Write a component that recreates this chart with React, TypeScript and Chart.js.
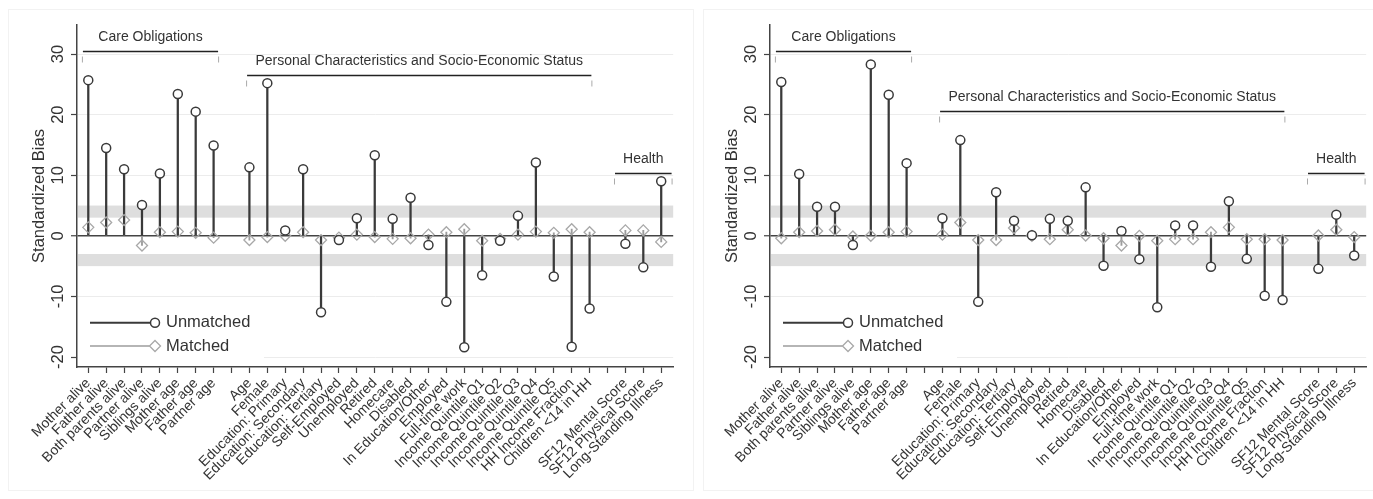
import React, { useEffect, useRef } from 'react';
import { Chart, registerables } from 'chart.js';

Chart.register(...registerables);

const FONT = "'Liberation Sans', Arial, Helvetica, sans-serif";

const categories = [
  'Mother alive', 'Father alive', 'Both parents alive', 'Partner alive', 'Siblings alive',
  'Mother age', 'Father age', 'Partner age', '',
  'Age', 'Female', 'Education: Primary', 'Education: Secondary', 'Education: Tertiary',
  'Self-Employed', 'Unemployed', 'Retired', 'Homecare', 'Disabled', 'In Education/Other',
  'Employed', 'Full-time work', 'Income Quintile Q1', 'Income Quintile Q2', 'Income Quintile Q3',
  'Income Quintile Q4', 'Income Quintile Q5', 'HH Income Fraction', 'Children <14 in HH', '',
  'SF12 Mental Score', 'SF12 Physical Score', 'Long-Standing Illness',
];

const unmatchedLeft: (number | null)[] = [
  25.7, 14.5, 11.0, 5.1, 10.3, 23.4, 20.5, 14.9, null,
  11.3, 25.2, 0.9, 11.0, -12.6, -0.7, 2.9, 13.3, 2.8, 6.3, -1.5,
  -10.9, -18.4, -6.5, -0.8, 3.3, 12.1, -6.7, -18.3, -12.0, null,
  -1.3, -5.2, 9.0,
];
const matchedLeft: (number | null)[] = [
  1.4, 2.2, 2.6, -1.6, 0.6, 0.7, 0.5, -0.3, null,
  -0.7, -0.2, 0.0, 0.6, -0.7, -0.3, 0.2, -0.2, -0.5, -0.4, 0.2,
  0.6, 1.1, -0.8, -0.5, 0.2, 0.7, 0.5, 1.1, 0.6, null,
  0.9, 0.9, -1.0,
];
const unmatchedRight: (number | null)[] = [
  25.4, 10.2, 4.8, 4.8, -1.5, 28.3, 23.3, 12.0, null,
  2.9, 15.8, -10.9, 7.2, 2.5, 0.1, 2.8, 2.5, 8.0, -4.95, 0.8,
  -3.85, -11.8, 1.7, 1.7, -5.1, 5.7, -3.8, -9.9, -10.6, null,
  -5.45, 3.5, -3.25,
];
const matchedRight: (number | null)[] = [
  -0.4, 0.6, 0.8, 1.0, -0.1, 0.0, 0.6, 0.7, null,
  0.2, 2.2, -0.7, -0.7, 1.3, 0.0, -0.55, 1.0, 0.05, -0.4, -1.6,
  0.0, -0.8, -0.55, -0.55, 0.6, 1.4, -0.55, -0.55, -0.7, null,
  0.05, 1.0, -0.2,
];

const yTicks = [-20, -10, 0, 10, 20, 30];
const bandRanges = [[3, 5], [-5, -3]];
const groupNames = ['Care Obligations', 'Personal Characteristics and Socio-Economic Status', 'Health'];
const groupFrom = [-0.3, 8.87, 29.42];
const groupTo = [7.25, 28.1, 32.58];
const groupLevelLeft = [30.5, 26.6, 10.4];
const groupLevelRight = [30.5, 20.6, 10.4];
const seriesNames = ['Unmatched', 'Matched'];
const yTitle = 'Standardized Bias';

const DARK = '#3a3a3a';
const GREY = '#9c9c9c';
const DIAMOND = '#a8a8a8';

function points(vals: (number | null)[]) {
  const out: { x: number; y: number }[] = [];
  vals.forEach((v, i) => {
    if (v !== null) out.push({ x: i, y: v });
  });
  return out;
}

function makePlugin(levels: number[]) {
  return {
    id: 'stataDecor',
    beforeDatasetsDraw(chart: any) {
      const { ctx, chartArea: a, scales } = chart;
      const y = scales.y;
      ctx.save();
      ctx.fillStyle = '#dedede';
      bandRanges.forEach(([lo, hi]) => {
        const top = y.getPixelForValue(hi);
        const bot = y.getPixelForValue(lo);
        ctx.fillRect(a.left + 1, top, a.right - a.left - 1, bot - top);
      });
      ctx.restore();
    },
    afterDraw(chart: any) {
      const { ctx, chartArea: a, scales } = chart;
      const x = scales.x;
      const y = scales.y;
      ctx.save();
      ctx.fillStyle = '#333';
      ctx.textAlign = 'center';
      ctx.textBaseline = 'middle';
      ctx.font = `16.5px ${FONT}`;
      yTicks.forEach((v) => {
        ctx.save();
        ctx.translate(a.left - 19, y.getPixelForValue(v));
        ctx.rotate(-Math.PI / 2);
        ctx.fillText(String(v), 0, 0);
        ctx.restore();
      });
      ctx.save();
      ctx.translate(a.left - 38, (a.top + a.bottom) / 2);
      ctx.rotate(-Math.PI / 2);
      ctx.fillText(yTitle, 0, 0);
      ctx.restore();

      // group brackets
      ctx.font = `14px ${FONT}`;
      groupNames.forEach((name, g) => {
        const x1 = x.getPixelForValue(groupFrom[g]);
        const x2 = x.getPixelForValue(groupTo[g]);
        const yy = Math.round(y.getPixelForValue(levels[g])) + 0.5;
        ctx.strokeStyle = '#222';
        ctx.lineWidth = 1.3;
        ctx.beginPath();
        ctx.moveTo(x1, yy);
        ctx.lineTo(x2, yy);
        ctx.stroke();
        ctx.strokeStyle = '#aaa';
        ctx.lineWidth = 1;
        ctx.beginPath();
        ctx.moveTo(x1 - 0.5, yy + 5);
        ctx.lineTo(x1 - 0.5, yy + 11);
        ctx.moveTo(x2 + 0.5, yy + 5);
        ctx.lineTo(x2 + 0.5, yy + 11);
        ctx.stroke();
        ctx.fillStyle = '#333';
        ctx.fillText(name, (x1 + x2) / 2, yy - 14);
      });

      // legend
      ctx.fillStyle = '#fff';
      ctx.fillRect(a.left + 1, a.bottom - 62, 186, 61);
      const ly = [a.bottom - 44.3, a.bottom - 21];
      const lx1 = a.left + 13;
      const lx2 = a.left + 78;
      // unmatched
      ctx.strokeStyle = DARK;
      ctx.lineWidth = 2;
      ctx.beginPath();
      ctx.moveTo(lx1, ly[0]);
      ctx.lineTo(lx2, ly[0]);
      ctx.stroke();
      ctx.fillStyle = '#fff';
      ctx.lineWidth = 1.5;
      ctx.beginPath();
      ctx.arc(lx2, ly[0], 4.5, 0, Math.PI * 2);
      ctx.fill();
      ctx.stroke();
      // matched
      ctx.strokeStyle = GREY;
      ctx.lineWidth = 1.3;
      ctx.beginPath();
      ctx.moveTo(lx1, ly[1]);
      ctx.lineTo(lx2 - 5.5, ly[1]);
      ctx.stroke();
      ctx.strokeStyle = DIAMOND;
      ctx.beginPath();
      ctx.moveTo(lx2, ly[1] - 5.5);
      ctx.lineTo(lx2 + 5.5, ly[1]);
      ctx.lineTo(lx2, ly[1] + 5.5);
      ctx.lineTo(lx2 - 5.5, ly[1]);
      ctx.closePath();
      ctx.stroke();
      ctx.fillStyle = '#333';
      ctx.textAlign = 'left';
      ctx.font = `16.5px ${FONT}`;
      ctx.fillText(seriesNames[0], a.left + 89, ly[0]);
      ctx.fillText(seriesNames[1], a.left + 89, ly[1]);
      ctx.restore();
    },
  };
}

function Panel(props: { left: number; unmatched: (number | null)[]; matched: (number | null)[]; levels: number[] }) {
  const ref = useRef<HTMLCanvasElement | null>(null);
  useEffect(() => {
    if (!ref.current) return;
    const chart = new Chart(ref.current, {
      type: 'bar',
      data: {
        datasets: [
          {
            type: 'line',
            label: seriesNames[0],
            data: points(props.unmatched),
            showLine: false,
            pointStyle: 'circle',
            pointRadius: 4.5,
            pointBorderWidth: 1.5,
            pointBorderColor: DARK,
            pointBackgroundColor: '#fff',
            order: 1,
          } as any,
          {
            type: 'line',
            label: seriesNames[1],
            data: points(props.matched),
            showLine: false,
            pointStyle: 'rectRot',
            pointRadius: 5.5,
            pointBorderWidth: 1.3,
            pointBorderColor: DIAMOND,
            pointBackgroundColor: 'rgba(0,0,0,0)',
            order: 2,
          } as any,
          {
            type: 'bar',
            data: points(props.unmatched),
            backgroundColor: DARK,
            barThickness: 1.6,
            grouped: false,
            order: 3,
          } as any,
          {
            type: 'bar',
            data: points(props.matched),
            backgroundColor: GREY,
            barThickness: 1.2,
            grouped: false,
            order: 4,
          } as any,
        ],
      },
      options: {
        responsive: false,
        animation: false,
        devicePixelRatio: 1,
        events: [],
        layout: { padding: { left: 0, right: 5, top: 25, bottom: 0 } },
        plugins: { legend: { display: false }, tooltip: { enabled: false } },
        scales: {
          x: {
            type: 'linear',
            min: -0.63,
            max: 32.67,
            offset: false,
            afterBuildTicks: (s: any) => {
              s.ticks = categories.map((_, i) => ({ value: i }));
            },
            afterFit: (s: any) => {
              s.height = 132;
            },
            ticks: {
              autoSkip: false,
              minRotation: 45,
              maxRotation: 45,
              color: '#333',
              font: { family: FONT, size: 14 },
              padding: 2,
              callback: (v: any) => categories[Math.round(Number(v))] ?? '',
            },
            grid: { offset: false, drawOnChartArea: false, drawTicks: true, tickLength: 6, tickColor: '#444', tickWidth: 1.2 },
            border: { display: true, color: '#444', width: 1.5 },
          } as any,
          y: {
            type: 'linear',
            min: -21.65,
            max: 34.8,
            afterBuildTicks: (s: any) => {
              s.ticks = yTicks.map((v) => ({ value: v }));
            },
            afterFit: (s: any) => {
              s.width = 77;
            },
            ticks: { display: false },
            grid: {
              color: (c: any) => (c.tick && c.tick.value === 0 ? '#444' : '#ececec'),
              lineWidth: (c: any) => (c.tick && c.tick.value === 0 ? 1.5 : 1),
              drawTicks: true,
              tickLength: 6,
              tickColor: '#444',
              tickWidth: 1.2,
            },
            border: { display: true, color: '#444', width: 1.5 },
          } as any,
        },
      },
      plugins: [makePlugin(props.levels)],
    } as any);
    return () => chart.destroy();
  }, []);
  return (
    <canvas
      ref={ref}
      width={680}
      height={499}
      style={{ position: 'absolute', left: props.left, top: 0, width: 680, height: 499 }}
    />
  );
}

export default function App() {
  return (
    <div style={{ position: 'fixed', left: 0, top: 0, width: 1373, height: 499, background: '#fff', overflow: 'hidden' }}>
      <div style={{ position: 'absolute', left: 8, top: 9, width: 684, height: 480, border: '1px solid #f2f2f2' }} />
      <div style={{ position: 'absolute', left: 703, top: 9, width: 680, height: 480, border: '1px solid #f2f2f2' }} />
      <Panel left={0} unmatched={unmatchedLeft} matched={matchedLeft} levels={groupLevelLeft} />
      <Panel left={693} unmatched={unmatchedRight} matched={matchedRight} levels={groupLevelRight} />
    </div>
  );
}
